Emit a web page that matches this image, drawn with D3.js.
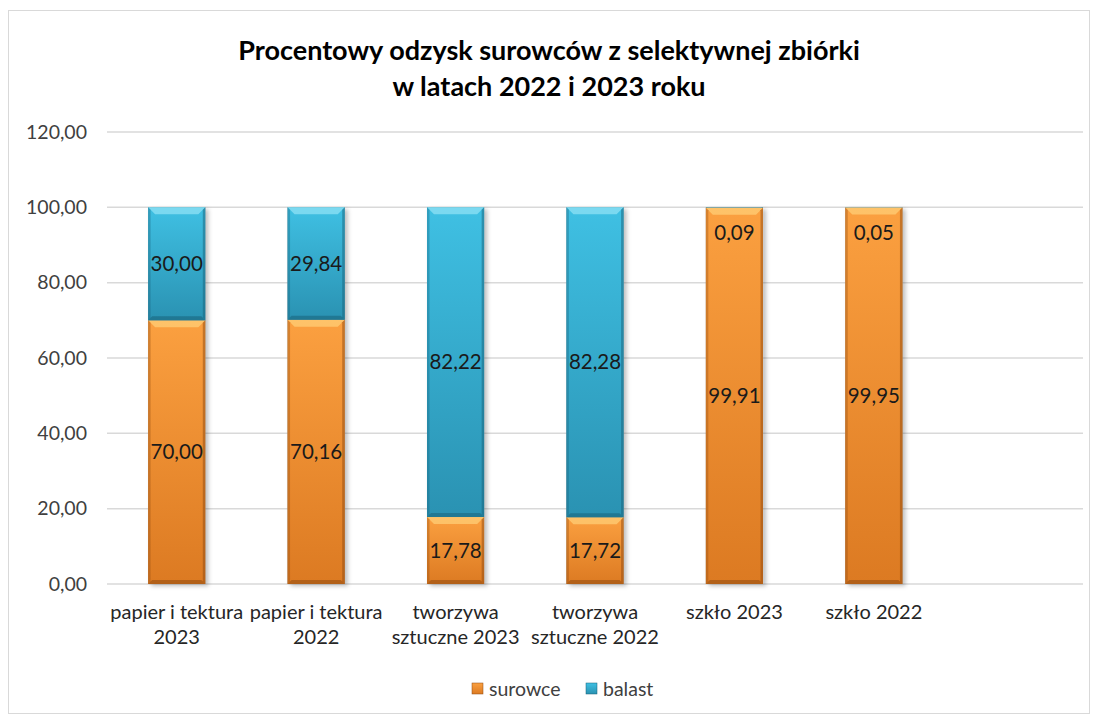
<!DOCTYPE html>
<html>
<head>
<meta charset="utf-8">
<script src="https://cdnjs.cloudflare.com/ajax/libs/d3/7.8.5/d3.min.js"></script>
<style>
  body { margin: 0; background: #fff; }
  svg text { font-family: Lato, "Open Sans", sans-serif; }
</style>
</head>
<body>
<svg width="1099" height="720"></svg>
<script>
// data
const categories = ["papier i tektura 2023", "papier i tektura 2022", "tworzywa sztuczne 2023",
                    "tworzywa sztuczne 2022", "szkło 2023", "szkło 2022", ""];
const labelLines = [["papier i tektura", "2023"], ["papier i tektura", "2022"], ["tworzywa", "sztuczne 2023"],
                    ["tworzywa", "sztuczne 2022"], ["szkło 2023"], ["szkło 2022"], []];
const surowce = [70.00, 70.16, 17.78, 17.72, 99.91, 99.95];
const balast = [30.00, 29.84, 82.22, 82.28, 0.09, 0.05];
const yTicks = [0, 20, 40, 60, 80, 100, 120];
const seriesNames = ["surowce", "balast"];

const svg = d3.select("svg");
const fmt = v => d3.format(".2f")(v).replace(".", ",");

// outer frame
svg.append("rect")
    .attr("x", 8.5).attr("y", 10.5)
    .attr("width", 1081).attr("height", 703)
    .attr("fill", "#fff")
    .attr("stroke", "#d9d9d9")
    .attr("stroke-width", 1);

//title
const title = svg.append("text")
    .attr("text-anchor", "middle")
    .attr("font-size", 27)
    .attr("font-weight", "bold")
    .attr("fill", "#000");
title.append("tspan").attr("x", 549).attr("y", 60).text("Procentowy odzysk surowców z selektywnej zbiórki");
title.append("tspan").attr("x", 549).attr("y", 96).text("w latach 2022 i 2023 roku");

const plotL = 107, plotR = 1083, plotT = 132, plotB = 584;

const x = d3.scaleBand().domain(categories).range([plotL, plotR]).padding(0);
const y = d3.scaleLinear().domain([0, 120]).range([plotB, plotT]);
const barW = x.bandwidth() * 0.41;

//grid lines
svg.append("g")
    .selectAll("line")
    .data(yTicks)
    .join("line")
    .attr("x1", plotL).attr("x2", plotR)
    .attr("y1", d => y(d)).attr("y2", d => y(d))
    .attr("stroke", "#d9d9d9")
    .attr("stroke-width", 1.5);

//y axis labels
svg.append("g")
    .selectAll("text")
    .data(yTicks)
    .join("text")
    .attr("x", 87)
    .attr("y", d => y(d))
    .attr("dy", "0.35em")
    .attr("text-anchor", "end")
    .attr("font-size", 19.5)
    .attr("fill", "#404040")
    .text(fmt);

//x axis labels
const xl = svg.append("g");
labelLines.forEach((lines, i) => {
    const t = xl.append("text")
        .attr("text-anchor", "middle")
        .attr("font-size", 20)
        .attr("fill", "#262626");
    lines.forEach((ln, j) => {
        t.append("tspan")
            .attr("x", x(categories[i]) + x.bandwidth() / 2)
            .attr("y", 619 + j * 25)
            .text(ln);
    });
});

//gradients
const defs = svg.append("defs");
const palettes = {
    surowce: { light: "#ffd27a", top: "#fba040", bot: "#dc7a22", dark: "#8f4a10" },
    balast: { light: "#95e4f7", top: "#3fc0e3", bot: "#2a92b2", dark: "#17627a" }
};
seriesNames.forEach(s => {
    const g = defs.append("linearGradient").attr("id", "grad-" + s)
        .attr("x1", 0).attr("y1", 0).attr("x2", 0).attr("y2", 1);
    g.append("stop").attr("offset", "0%").attr("stop-color", palettes[s].top);
    g.append("stop").attr("offset", "100%").attr("stop-color", palettes[s].bot);
});
const shadow = defs.append("filter").attr("id", "shadow")
    .attr("x", "-20%").attr("y", "-5%").attr("width", "150%").attr("height", "115%");
shadow.append("feDropShadow").attr("dx", 3).attr("dy", 2).attr("stdDeviation", 2)
    .attr("flood-color", "#000").attr("flood-opacity", 0.25);

//stack the data
const rows = surowce.map((v, i) => ({ cat: categories[i], surowce: v, balast: balast[i] }));
const stack = d3.stack().keys(seriesNames)(rows);

const barsG = svg.append("g");
// shadows first
barsG.selectAll("rect.sh")
    .data(rows)
    .join("rect")
    .attr("class", "sh")
    .attr("x", d => x(d.cat) + (x.bandwidth() - barW) / 2)
    .attr("y", d => y(d.surowce + d.balast))
    .attr("width", barW)
    .attr("height", d => y(0) - y(d.surowce + d.balast))
    .attr("fill", "#888")
    .attr("filter", "url(#shadow)");

function bevel(g, x0, y0, w, h, pal) {
    const b = Math.min(7, h / 2), s = Math.min(2.5, w / 2);
    g.append("rect").attr("x", x0).attr("y", y0).attr("width", w).attr("height", h)
        .attr("fill", "url(#grad-" + pal.key + ")");
    // top bevel
    g.append("path")
        .attr("d", `M${x0},${y0}L${x0 + w},${y0}L${x0 + w - b},${y0 + b}L${x0 + b},${y0 + b}Z`)
        .attr("fill", pal.light).attr("opacity", 0.7);
    // bottom bevel
    const bb = Math.min(4, h / 2);
    g.append("path")
        .attr("d", `M${x0},${y0 + h}L${x0 + w},${y0 + h}L${x0 + w - bb},${y0 + h - bb}L${x0 + bb},${y0 + h - bb}Z`)
        .attr("fill", pal.dark).attr("opacity", 0.55);
    // side bevels
    g.append("path")
        .attr("d", `M${x0},${y0}L${x0 + s},${y0 + Math.min(b, s)}L${x0 + s},${y0 + h - Math.min(bb, s)}L${x0},${y0 + h}Z`)
        .attr("fill", pal.dark).attr("opacity", 0.35);
    g.append("path")
        .attr("d", `M${x0 + w},${y0}L${x0 + w - s},${y0 + Math.min(b, s)}L${x0 + w - s},${y0 + h - Math.min(bb, s)}L${x0 + w},${y0 + h}Z`)
        .attr("fill", pal.dark).attr("opacity", 0.5);
}

stack.forEach(layer => {
    const key = layer.key;
    layer.forEach(seg => {
        const x0 = x(seg.data.cat) + (x.bandwidth() - barW) / 2;
        const y0 = y(seg[1]);
        const h = y(seg[0]) - y(seg[1]);
        bevel(barsG.append("g"), x0, y0, barW, h, Object.assign({ key }, palettes[key]));
    });
});

//data labels
stack.forEach(layer => {
    barsG.append("g")
        .selectAll("text")
        .data(layer)
        .join("text")
        .attr("x", d => x(d.data.cat) + x.bandwidth() / 2)
        .attr("y", d => {
            const h = y(d[0]) - y(d[1]);
            // tiny segments: label moved down inside the bar
            return h < 20 ? y(d[1]) + 25 : (y(d[0]) + y(d[1])) / 2;
        })
        .attr("dy", "0.35em")
        .attr("text-anchor", "middle")
        .attr("font-size", 20.5)
        .attr("fill", "#1a1a1a")
        .text(d => fmt(d.data[layer.key]));
});

//legend
const legend = svg.append("g");
const legendX = [472, 586];
seriesNames.forEach((s, i) => {
    const lx = legendX[i];
    legend.append("rect")
        .attr("x", lx).attr("y", 683)
        .attr("width", 11).attr("height", 11)
        .attr("fill", "url(#grad-" + s + ")")
        .attr("stroke", palettes[s].dark).attr("stroke-width", 0.5);
    legend.append("text")
        .attr("x", lx + 17).attr("y", 689)
        .attr("dy", "0.35em")
        .attr("font-size", 19.5)
        .attr("fill", "#404040")
        .text(s);
});
</script>
</body>
</html>
